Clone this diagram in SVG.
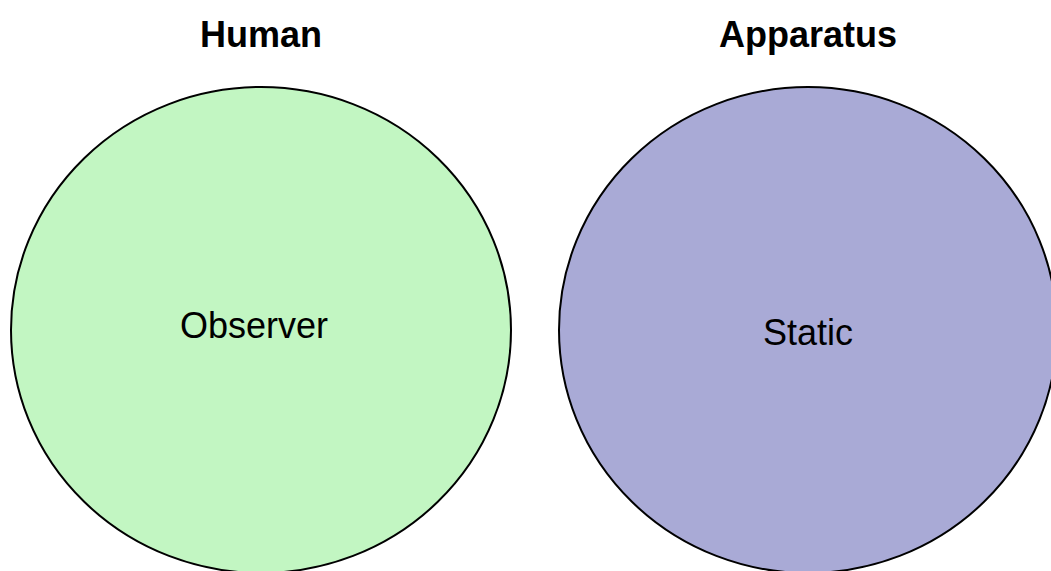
<svg xmlns="http://www.w3.org/2000/svg" width="1051" height="571" viewBox="0 0 1051 571">
<style>
.title{font-family:"Liberation Sans",Arial,sans-serif;font-size:36px;font-weight:bold;fill:#000;text-anchor:middle}
.label{font-family:"Liberation Sans",Arial,sans-serif;font-size:36px;fill:#000;text-anchor:middle}
.c{stroke:#000;stroke-width:2}
</style>
<rect width="1051" height="571" fill="#fff"/>
<g id="human">
<ellipse class="c" cx="261" cy="330" rx="250" ry="243" fill="#c2f6c2"/>
<text class="title" x="261" y="47">Human</text>
<text class="label" x="254" y="338">Observer</text>
</g>
<g id="apparatus">
<ellipse class="c" cx="808" cy="330" rx="249" ry="243" fill="#a9aad6"/>
<text class="title" x="808" y="47">Apparatus</text>
<text class="label" x="808" y="345">Static</text>
</g>
<g id="connectors"/>
</svg>
